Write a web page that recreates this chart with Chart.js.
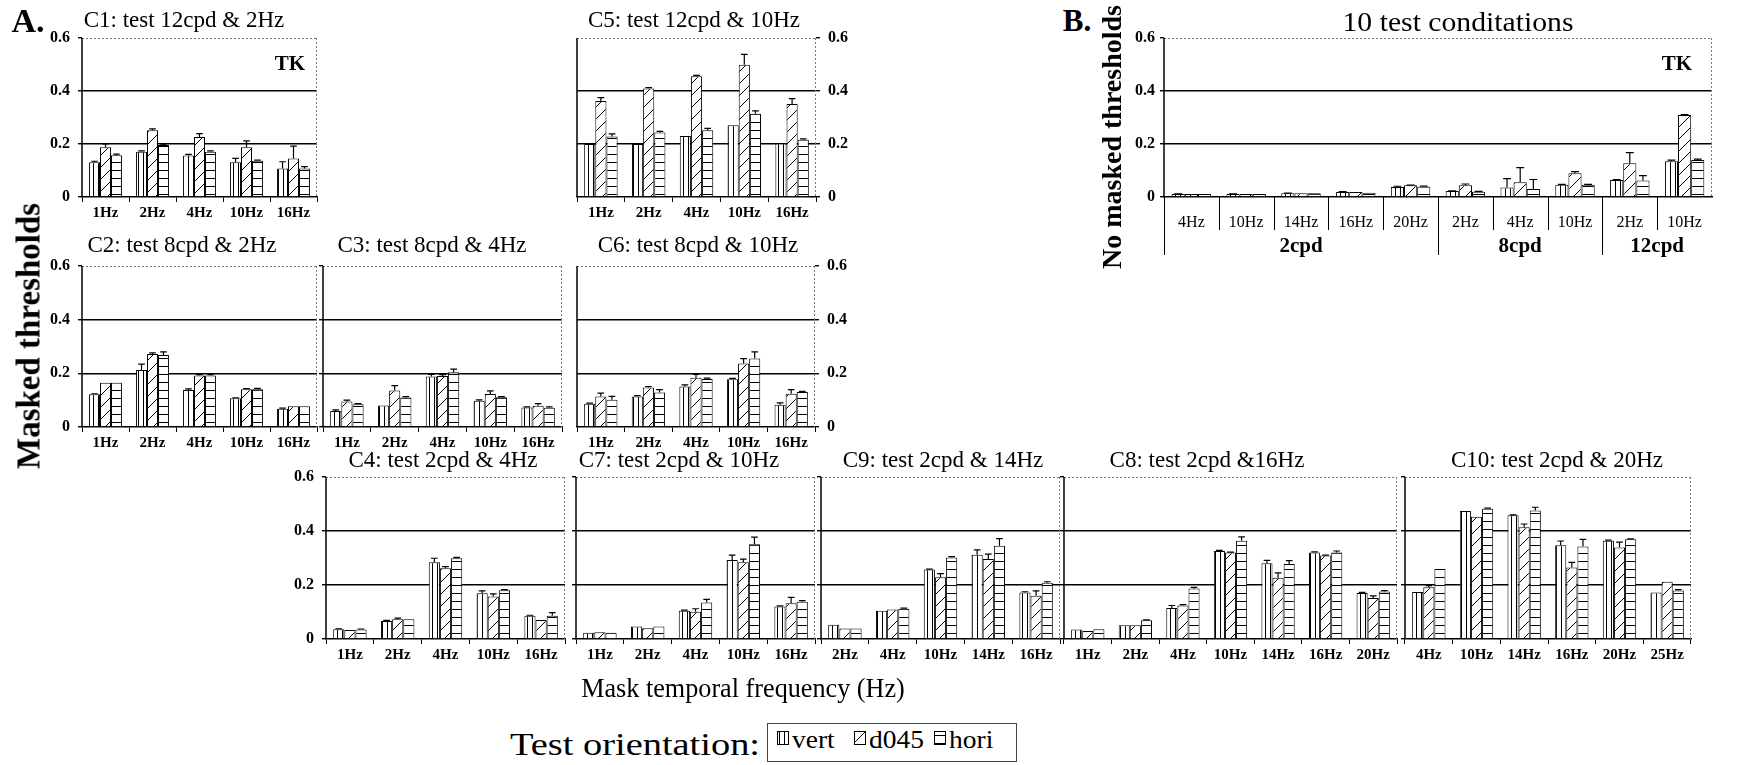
<!DOCTYPE html>
<html><head><meta charset="utf-8">
<script src="https://cdn.jsdelivr.net/npm/chart.js@4.4.1/dist/chart.umd.min.js"></script>
<style>
html,body{margin:0;padding:0;background:#fff;}
#wrap{position:relative;width:1738px;height:765px;overflow:hidden;background:#fff;font-family:"Liberation Serif","Times New Roman",serif;color:#000;}
canvas.panel{position:absolute;}
.t{position:absolute;white-space:nowrap;line-height:1;}
</style></head><body><div id="wrap"></div>
<script>
// ---------------- DATA ----------------
const seriesNames = ['vert','d045','hori'];

const c1Cats = ['1Hz','2Hz','4Hz','10Hz','16Hz'];
const c1Vert = [0.131,0.171,0.157,0.131,0.108];
const c1VertErr = [0.004,0.003,0.004,0.015,0.025];
const c1D045 = [0.188,0.252,0.226,0.188,0.145];
const c1D045Err = [0.012,0.005,0.013,0.024,0.047];
const c1Hori = [0.158,0.196,0.171,0.137,0.108];
const c1HoriErr = [0.004,0.003,0.003,0.002,0.007];

const c5Cats = ['1Hz','2Hz','4Hz','10Hz','16Hz'];
const c5Vert = [0.2,0.2,0.23,0.271,0.202];
const c5VertErr = [0,0,0,0,0];
const c5D045 = [0.362,0.409,0.456,0.499,0.351];
const c5D045Err = [0.013,0.004,0.003,0.039,0.02];
const c5Hori = [0.228,0.243,0.252,0.314,0.216];
const c5HoriErr = [0.01,0.005,0.007,0.011,0.003];

const c2Cats = ['1Hz','2Hz','4Hz','10Hz','16Hz'];
const c2Vert = [0.122,0.212,0.138,0.107,0.068];
const c2VertErr = [0.002,0.022,0.004,0.002,0.002];
const c2D045 = [0.165,0.272,0.192,0.141,0.077];
const c2D045Err = [0,0.004,0.003,0.002,0];
const c2Hori = [0.165,0.268,0.192,0.141,0.077];
const c2HoriErr = [0,0.012,0.003,0.003,0];

const c3Cats = ['1Hz','2Hz','4Hz','10Hz','16Hz'];
const c3Vert = [0.06,0.08,0.188,0.098,0.073];
const c3VertErr = [0.004,0,0.008,0.003,0.002];
const c3D045 = [0.095,0.136,0.19,0.123,0.079];
const c3D045Err = [0.005,0.018,0.005,0.012,0.008];
const c3Hori = [0.085,0.11,0.204,0.111,0.072];
const c3HoriErr = [0.002,0.003,0.012,0.002,0.003];

const c6Cats = ['1Hz','2Hz','4Hz','10Hz','16Hz'];
const c6Vert = [0.087,0.114,0.151,0.178,0.083];
const c6VertErr = [0.002,0.003,0.006,0.003,0.007];
const c6D045 = [0.114,0.147,0.184,0.237,0.124];
const c6D045Err = [0.012,0.004,0.012,0.018,0.015];
const c6Hori = [0.102,0.129,0.179,0.255,0.13];
const c6HoriErr = [0.012,0.01,0.003,0.025,0.003];

const c4Cats = ['1Hz','2Hz','4Hz','10Hz','16Hz'];
const c4Vert = [0.036,0.067,0.284,0.169,0.086];
const c4VertErr = [0.002,0.002,0.015,0.009,0.002];
const c4D045 = [0.033,0.073,0.262,0.157,0.07];
const c4D045Err = [0,0.004,0.006,0.01,0];
const c4Hori = [0.035,0.073,0.299,0.181,0.086];
const c4HoriErr = [0.002,0,0.003,0.002,0.012];

const c7Cats = ['1Hz','2Hz','4Hz','10Hz','16Hz'];
const c7Vert = [0.023,0.046,0.105,0.293,0.12];
const c7VertErr = [0,0,0.002,0.018,0.003];
const c7D045 = [0.025,0.04,0.101,0.284,0.132];
const c7D045Err = [0,0,0.011,0.012,0.022];
const c7Hori = [0.023,0.046,0.135,0.351,0.138];
const c7HoriErr = [0,0,0.012,0.026,0.004];

const c9Cats = ['2Hz','4Hz','10Hz','14Hz','16Hz'];
const c9Vert = [0.053,0.105,0.257,0.312,0.172];
const c9VertErr = [0,0,0.002,0.018,0.003];
const c9D045 = [0.039,0.109,0.229,0.296,0.16];
const c9D045Err = [0,0,0.013,0.018,0.018];
const c9Hori = [0.039,0.112,0.302,0.345,0.208];
const c9HoriErr = [0,0.002,0.003,0.027,0.004];

const c8Cats = ['1Hz','2Hz','4Hz','10Hz','14Hz','16Hz','20Hz'];
const c8Vert = [0.035,0.051,0.115,0.326,0.281,0.32,0.17];
const c8VertErr = [0,0,0.009,0.002,0.01,0.003,0.003];
const c8D045 = [0.03,0.051,0.124,0.32,0.227,0.309,0.152];
const c8D045Err = [0,0,0.003,0.002,0.018,0.002,0.008];
const c8Hori = [0.036,0.069,0.187,0.364,0.278,0.32,0.176];
const c8HoriErr = [0,0.002,0.004,0.014,0.012,0.006,0.003];

const c10Cats = ['4Hz','10Hz','14Hz','16Hz','20Hz','25Hz'];
const c10Vert = [0.174,0.474,0.458,0.347,0.364,0.172];
const c10VertErr = [0,0,0.002,0.016,0.002,0];
const c10D045 = [0.192,0.453,0.414,0.265,0.339,0.212];
const c10D045Err = [0.006,0,0.012,0.019,0.02,0];
const c10Hori = [0.259,0.482,0.476,0.343,0.369,0.18];
const c10HoriErr = [0,0.003,0.012,0.026,0.002,0.003];

const bCats = ['4Hz','10Hz','14Hz','16Hz','20Hz','2Hz','4Hz','10Hz','2Hz','10Hz'];
const bGroups = ['2cpd','8cpd','12cpd'];
const bGroupSizes = [5,3,2];
const bVert = [0.011,0.011,0.014,0.019,0.0375,0.0225,0.036,0.046,0.064,0.135];
const bVertErr = [0.001,0.001,0.001,0.001,0.003,0.001,0.033,0.002,0.002,0.004];
const bD045 = [0.011,0.011,0.014,0.019,0.044,0.044,0.056,0.09,0.1275,0.309];
const bD045Err = [0,0,0,0,0.001,0.005,0.055,0.006,0.04,0.002];
const bHori = [0.011,0.011,0.014,0.016,0.039,0.02,0.03,0.046,0.0625,0.14];
const bHoriErr = [0,0,0,0,0.002,0.001,0.036,0.002,0.018,0.003];

const yTicks = [0, 0.2, 0.4, 0.6];

// ---------------- DRAWING ----------------
const F = '"Liberation Serif","Times New Roman",serif';
const wrap = document.getElementById('wrap');

function makePattern(kind){
  const c = document.createElement('canvas');
  let w, h;
  if (kind === 'vert') { w = 5; h = 5; }
  else if (kind === 'd045') { w = 12; h = 12; }
  else { w = 5; h = 8; }
  c.width = w; c.height = h;
  const g = c.getContext('2d');
  g.fillStyle = '#fff'; g.fillRect(0,0,w,h);
  g.strokeStyle = '#000'; g.lineWidth = 1;
  g.beginPath();
  if (kind === 'vert') { g.moveTo(2.5,0); g.lineTo(2.5,h); }
  else if (kind === 'hori') { g.moveTo(0,4.5); g.lineTo(w,4.5); }
  else {
    g.moveTo(0,h); g.lineTo(w,0);
    g.moveTo(-2,2); g.lineTo(2,-2);
    g.moveTo(w-2,h+2); g.lineTo(w+2,h-2);
  }
  g.stroke();
  return g.createPattern(c,'repeat');
}
const PAT = {vert: makePattern('vert'), d045: makePattern('d045'), hori: makePattern('hori')};

const framePlugin = {
  id: 'frame',
  beforeDatasetsDraw(chart){
    const ctx = chart.ctx, a = chart.chartArea;
    ctx.save();
    ctx.strokeStyle = '#777'; ctx.lineWidth = 1; ctx.setLineDash([2,2]);
    ctx.beginPath();
    ctx.moveTo(a.left, Math.round(a.top)+0.5); ctx.lineTo(a.right, Math.round(a.top)+0.5);
    ctx.moveTo(Math.round(a.right)-0.5, a.top); ctx.lineTo(Math.round(a.right)-0.5, a.bottom);
    ctx.stroke();
    ctx.setLineDash([]); ctx.strokeStyle = '#000'; ctx.lineWidth = 1.5;
    ctx.beginPath(); ctx.moveTo(a.left, a.top); ctx.lineTo(a.left, a.bottom); ctx.stroke();
    ctx.restore();
  }
};

const errPlugin = {
  id: 'errbars',
  afterDatasetsDraw(chart){
    const ctx = chart.ctx, ys = chart.scales.y;
    chart.data.datasets.forEach((ds, i) => {
      if (!ds.errors) return;
      const meta = chart.getDatasetMeta(i);
      meta.data.forEach((bar, j) => {
        const e = ds.errors[j];
        if (!e) return;
        const top = ys.getPixelForValue(ds.data[j] + e);
        const w = Math.min(bar.width * 0.3, 4);
        ctx.save();
        ctx.strokeStyle = '#000'; ctx.lineWidth = 1.2;
        ctx.beginPath();
        ctx.moveTo(bar.x, bar.y); ctx.lineTo(bar.x, top);
        ctx.moveTo(bar.x - w, top); ctx.lineTo(bar.x + w, top);
        ctx.stroke();
        ctx.restore();
      });
    });
  }
};

const groupPlugin = {
  id: 'groups',
  afterDraw(chart, args, opts){
    if (!opts || !opts.groups) return;
    const xs = chart.scales.x, a = chart.chartArea, ctx = chart.ctx;
    const n = chart.data.labels.length;
    const step = xs.getPixelForValue(1) - xs.getPixelForValue(0);
    const starts = [0]; let acc = 0;
    opts.sizes.forEach(s => { acc += s; starts.push(acc); });
    ctx.save();
    ctx.strokeStyle = '#000'; ctx.lineWidth = 1;
    for (let i = 0; i < n; i++) {
      const x = Math.round(xs.getPixelForValue(i) - step/2) + 0.5;
      const isG = starts.includes(i);
      ctx.beginPath(); ctx.moveTo(x, a.bottom); ctx.lineTo(x, a.bottom + (isG ? 58 : 33)); ctx.stroke();
    }
    ctx.fillStyle = '#000'; ctx.font = 'bold 21px ' + F;
    ctx.textAlign = 'center'; ctx.textBaseline = 'middle';
    let s0 = 0;
    opts.groups.forEach((g, k) => {
      const s1 = s0 + opts.sizes[k];
      const cx = (xs.getPixelForValue(s0) + xs.getPixelForValue(s1 - 1)) / 2;
      ctx.fillText(g, cx, a.bottom + 50);
      s0 = s1;
    });
    ctx.restore();
  }
};

function isGridVal(v){ return Math.abs(v-0.2) < 1e-6 || Math.abs(v-0.4) < 1e-6; }

function makePanel(o){
  const padT = 24, side = 56, xH = o.xH || 32;
  const W = (o.R - o.L) + 2*side, H = (o.B - o.T) + padT + xH;
  const cv = document.createElement('canvas');
  cv.width = W; cv.height = H; cv.className = 'panel';
  cv.style.left = (o.L - side) + 'px'; cv.style.top = (o.T - padT) + 'px';
  cv.style.width = W + 'px'; cv.style.height = H + 'px';
  wrap.appendChild(cv);
  const right = o.yPos === 'right';
  const grp = !!o.groups;
  new Chart(cv, {
    type: 'bar',
    data: {
      labels: o.cats,
      datasets: [
        {label: seriesNames[0], data: o.vert, errors: o.vertErr, backgroundColor: PAT.vert, borderColor: '#000', borderWidth: 1},
        {label: seriesNames[1], data: o.d045, errors: o.d045Err, backgroundColor: PAT.d045, borderColor: '#000', borderWidth: 1},
        {label: seriesNames[2], data: o.hori, errors: o.horiErr, backgroundColor: PAT.hori, borderColor: '#000', borderWidth: 1}
      ]
    },
    options: {
      responsive: false, animation: false, devicePixelRatio: 1, events: [],
      layout: {padding: {left: right ? side : 0, right: right ? 0 : side, top: padT, bottom: 0}},
      datasets: {bar: {categoryPercentage: grp ? 0.72 : 0.7, barPercentage: 1.0}},
      plugins: {
        legend: {display: false}, tooltip: {enabled: false},
        groups: grp ? {groups: o.groups, sizes: o.sizes} : {}
      },
      scales: {
        x: {
          type: 'category', offset: true,
          grid: {display: !grp, offset: true, drawOnChartArea: false, drawTicks: true, tickLength: 5, color: '#000', lineWidth: 1},
          border: {display: true, color: '#000', width: 1.5},
          ticks: {color: '#000', font: {family: F, size: grp ? 16 : 15, weight: grp ? 'normal' : 'bold'},
                  padding: grp ? 11 : 2, maxRotation: 0, minRotation: 0, autoSkip: false},
          afterFit: s => { s.height = xH; }
        },
        y: {
          position: right ? 'right' : 'left', min: 0, max: 0.6,
          afterBuildTicks: s => { s.ticks = yTicks.map(v => ({value: v})); },
          ticks: {display: o.yLabels !== false, color: '#000', font: {family: F, size: 16, weight: 'bold'}, padding: grp ? 5 : 8,
                  callback: v => Math.abs(v) < 1e-9 ? '0' : v.toFixed(1)},
          grid: {drawOnChartArea: true, drawTicks: true, tickLength: 4, tickColor: '#000', lineWidth: 1.4,
                 color: c => (c.tick && isGridVal(c.tick.value)) ? '#000' : 'rgba(0,0,0,0)'},
          border: {display: false},
          afterFit: s => { s.width = side; }
        }
      }
    },
    plugins: [framePlugin, errPlugin, groupPlugin]
  });
}

// panels
makePanel({L:82, T:38, R:317, B:197, cats:c1Cats, vert:c1Vert, vertErr:c1VertErr, d045:c1D045, d045Err:c1D045Err, hori:c1Hori, horiErr:c1HoriErr});
makePanel({L:577, T:38, R:816, B:197, yPos:'right', cats:c5Cats, vert:c5Vert, vertErr:c5VertErr, d045:c5D045, d045Err:c5D045Err, hori:c5Hori, horiErr:c5HoriErr});
makePanel({L:1164, T:38, R:1712, B:197, xH:62, groups:bGroups, sizes:bGroupSizes, cats:bCats, vert:bVert, vertErr:bVertErr, d045:bD045, d045Err:bD045Err, hori:bHori, horiErr:bHoriErr});
makePanel({L:82, T:266, R:317, B:427, cats:c2Cats, vert:c2Vert, vertErr:c2VertErr, d045:c2D045, d045Err:c2D045Err, hori:c2Hori, horiErr:c2HoriErr});
makePanel({L:323, T:266, R:562, B:427, yLabels:false, cats:c3Cats, vert:c3Vert, vertErr:c3VertErr, d045:c3D045, d045Err:c3D045Err, hori:c3Hori, horiErr:c3HoriErr});
makePanel({L:577, T:266, R:815, B:427, yPos:'right', cats:c6Cats, vert:c6Vert, vertErr:c6VertErr, d045:c6D045, d045Err:c6D045Err, hori:c6Hori, horiErr:c6HoriErr});
makePanel({L:326, T:477, R:565, B:639, cats:c4Cats, vert:c4Vert, vertErr:c4VertErr, d045:c4D045, d045Err:c4D045Err, hori:c4Hori, horiErr:c4HoriErr});
makePanel({L:576, T:477, R:815, B:639, yLabels:false, cats:c7Cats, vert:c7Vert, vertErr:c7VertErr, d045:c7D045, d045Err:c7D045Err, hori:c7Hori, horiErr:c7HoriErr});
makePanel({L:821, T:477, R:1060, B:639, yLabels:false, cats:c9Cats, vert:c9Vert, vertErr:c9VertErr, d045:c9D045, d045Err:c9D045Err, hori:c9Hori, horiErr:c9HoriErr});
makePanel({L:1064, T:477, R:1397, B:639, yLabels:false, cats:c8Cats, vert:c8Vert, vertErr:c8VertErr, d045:c8D045, d045Err:c8D045Err, hori:c8Hori, horiErr:c8HoriErr});
makePanel({L:1405, T:477, R:1691, B:639, yLabels:false, cats:c10Cats, vert:c10Vert, vertErr:c10VertErr, d045:c10D045, d045Err:c10D045Err, hori:c10Hori, horiErr:c10HoriErr});

// text
function txt(s, x, y, size, opts){
  opts = opts || {};
  const d = document.createElement('div');
  d.className = 't';
  d.textContent = s;
  d.style.left = x + 'px'; d.style.top = y + 'px';
  d.style.fontSize = size + 'px';
  d.style.fontWeight = opts.bold ? 'bold' : 'normal';
  let tr = 'translate(-50%,-50%)';
  if (opts.rot) tr += ' rotate(-90deg)';
  if (opts.sx) tr += ' scaleX(' + opts.sx + ')';
  d.style.transform = tr;
  wrap.appendChild(d);
  return d;
}
txt('A.', 28, 21, 34, {bold:true});
txt('B.', 1077, 20, 31, {bold:true});
txt('C1: test 12cpd & 2Hz', 184, 19, 23);
txt('C5: test 12cpd & 10Hz', 694, 19, 23);
txt('TK', 290, 63, 21, {bold:true});
txt('TK', 1677, 63, 21, {bold:true});
txt('10 test conditations', 1458, 22, 27, {sx:1.1});
txt('No masked thresholds', 1112, 137, 28, {bold:true, rot:true});
txt('Masked thresholds', 29, 336, 33, {bold:true, rot:true});
txt('C2: test 8cpd & 2Hz', 182, 244, 23);
txt('C3: test 8cpd & 4Hz', 432, 244, 23);
txt('C6: test 8cpd & 10Hz', 698, 244, 23);
txt('C4: test 2cpd & 4Hz', 443, 459, 23);
txt('C7: test 2cpd & 10Hz', 679, 459, 23);
txt('C9: test 2cpd & 14Hz', 943, 459, 23);
txt('C8: test 2cpd &16Hz', 1207, 459, 23);
txt('C10: test 2cpd & 20Hz', 1557, 459, 23);
txt('Mask temporal frequency (Hz)', 743, 688, 27, {sx:0.97});
txt('Test orientation:', 635, 744, 32, {sx:1.2});

// legend
const lg = document.createElement('div');
lg.style.cssText = 'position:absolute;left:767px;top:723px;width:250px;height:39px;border:1px solid #444;box-sizing:border-box;';
wrap.appendChild(lg);
const legendItems = [{k:'vert', ix:777, tx:792}, {k:'d045', ix:854, tx:869}, {k:'hori', ix:934, tx:949}];
legendItems.forEach(it => {
  const c = document.createElement('canvas');
  c.width = 12; c.height = 14;
  c.style.cssText = 'position:absolute;left:' + it.ix + 'px;top:731px;width:12px;height:14px;';
  const g = c.getContext('2d');
  g.fillStyle = PAT[it.k]; g.fillRect(0,0,12,14);
  g.strokeStyle = '#000'; g.lineWidth = 1; g.strokeRect(0.5,0.5,11,13);
  wrap.appendChild(c);
  const d = document.createElement('div');
  d.className = 't';
  d.textContent = it.k;
  d.style.cssText += 'left:' + it.tx + 'px;top:739px;font-size:25px;transform:translateY(-50%) scaleX(1.1);transform-origin:left center;';
  wrap.appendChild(d);
});
</script></body></html>
